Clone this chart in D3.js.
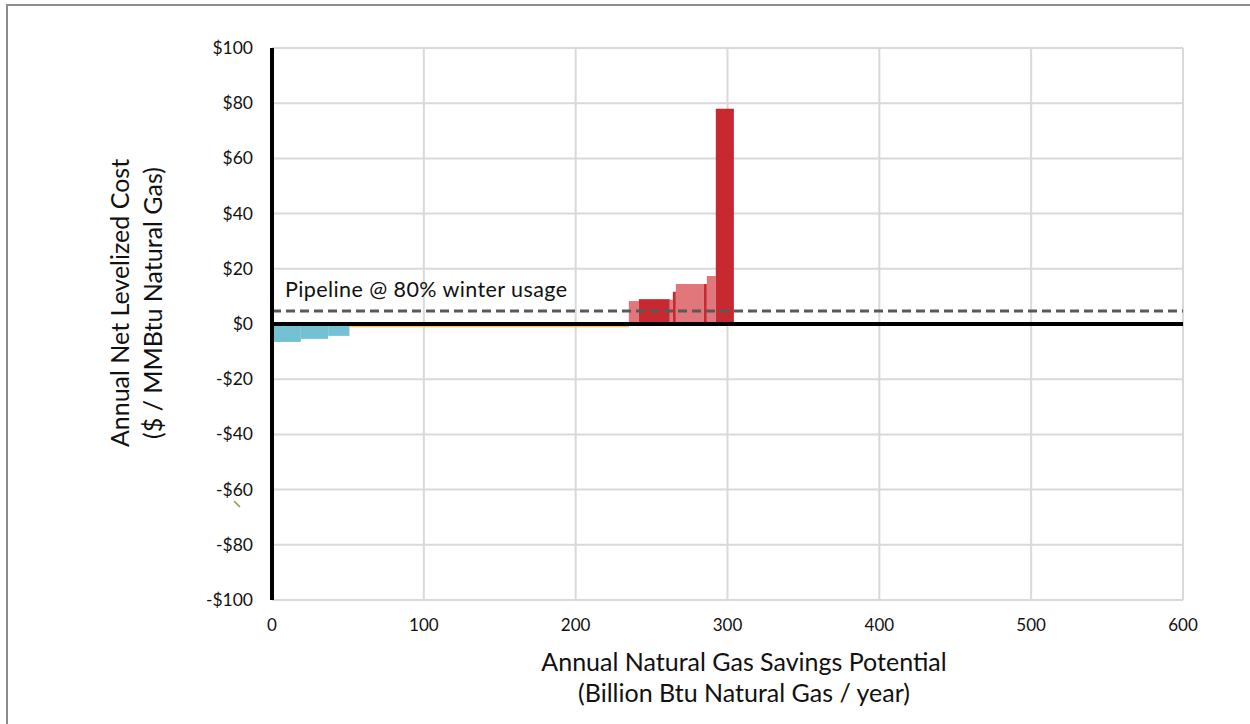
<!DOCTYPE html>
<html>
<head>
<meta charset="utf-8">
<script src="https://cdn.jsdelivr.net/npm/d3@7"></script>
<style>
  body { margin: 0; background: #fff; }
  text { font-family: "Lato", "Open Sans", sans-serif; fill: #111; }
</style>
</head>
<body>
<script>
// supply curve steps: width on x (Billion Btu / yr), height on y ($ / MMBtu)
var savings = [19, 18, 14, 184, 6.6, 20.4, 2, 2, 18.4, 2, 5.9, 11.9]
var costs   = [-6.5, -5.4, -4.3, -1.2, 8.3, 9.0, 8.8, 11.7, 14.5, 14.5, 17.4, 78]
var groups  = ['blue', 'blue', 'blue', 'yellow', 'light', 'dark', 'light', 'dark', 'light', 'dark', 'light', 'dark']
var xTicks = [0, 100, 200, 300, 400, 500, 600]
var yTicks = [100, 80, 60, 40, 20, 0, -20, -40, -60, -80, -100]
var pipeline = 4.7
var pipelineLabel = 'Pipeline @ 80% winter usage'

var colors = { blue: '#74c1d3', yellow: '#f4c65a', light: '#e1767b', dark: '#c6292f' }

var W = 1250, H = 724
var svg = d3.select(document.body).append('svg').attr('width', W).attr('height', H)

// outer frame
svg.append('path').attr('d', 'M7,' + H + ' L7,5 L' + W + ',5')
  .attr('fill', 'none').attr('stroke', '#8c8c8c').attr('stroke-width', 2)

var x = d3.scaleLinear().domain([0, 600]).range([272, 1183])
var y = d3.scaleLinear().domain([-100, 100]).range([600, 48])

// grid
svg.append('g').selectAll('line').data(yTicks).enter().append('line')
  .attr('x1', x(0)).attr('x2', x(600))
  .attr('y1', function(d) { return y(d) }).attr('y2', function(d) { return y(d) })
  .attr('stroke', '#d9d9d9').attr('stroke-width', 2)
svg.append('g').selectAll('line').data(xTicks.slice(1)).enter().append('line')
  .attr('x1', function(d) { return x(d) }).attr('x2', function(d) { return x(d) })
  .attr('y1', y(100)).attr('y2', y(-100))
  .attr('stroke', '#d9d9d9').attr('stroke-width', 2)

// bars
var starts = []
var acc = 0
savings.forEach(function(s) { starts.push(acc); acc += s })

svg.append('g').selectAll('rect').data(costs).enter().append('rect')
  .attr('x', function(d, i) { return x(starts[i]) })
  .attr('width', function(d, i) { return x(starts[i] + savings[i]) - x(starts[i]) })
  .attr('y', function(d) { return y(Math.max(0, d)) })
  .attr('height', function(d) { return Math.abs(y(d) - y(0)) })
  .attr('fill', function(d, i) { return colors[groups[i]] })

// pipeline reference
svg.append('line')
  .attr('x1', x(0)).attr('x2', x(600))
  .attr('y1', y(pipeline)).attr('y2', y(pipeline))
  .attr('stroke', '#595959').attr('stroke-width', 3).attr('stroke-dasharray', '9,5')
svg.append('text').attr('x', 285).attr('y', 297)
  .attr('font-size', 21.5).attr('textLength', 282).text(pipelineLabel)

// axes lines
svg.append('line').attr('x1', x(0)).attr('x2', x(600))
  .attr('y1', y(0)).attr('y2', y(0))
  .attr('stroke', '#000').attr('stroke-width', 4)
svg.append('line').attr('x1', x(0)).attr('x2', x(0))
  .attr('y1', y(100)).attr('y2', y(-100))
  .attr('stroke', '#000').attr('stroke-width', 4)

// tick labels
svg.append('g').selectAll('text').data(yTicks).enter().append('text')
  .attr('x', 253).attr('y', function(d) { return y(d) + 6 })
  .attr('text-anchor', 'end').attr('font-size', 17.5)
  .text(function(d) { return (d < 0 ? '-$' : '$') + Math.abs(d) })
svg.append('g').selectAll('text').data(xTicks).enter().append('text')
  .attr('x', function(d) { return x(d) }).attr('y', 631)
  .attr('text-anchor', 'middle').attr('font-size', 17)
  .text(function(d) { return d })

// axis titles
svg.append('text').attr('x', 744).attr('y', 671).attr('text-anchor', 'middle')
  .attr('font-size', 25).text('Annual Natural Gas Savings Potential')
svg.append('text').attr('x', 744).attr('y', 702).attr('text-anchor', 'middle')
  .attr('font-size', 25).text('(Billion Btu Natural Gas / year)')
svg.append('text').attr('transform', 'translate(129,303) rotate(-90)').attr('text-anchor', 'middle')
  .attr('font-size', 25).text('Annual Net Levelized Cost')
svg.append('text').attr('transform', 'translate(162,303) rotate(-90)').attr('text-anchor', 'middle')
  .attr('font-size', 25).text('($ / MMBtu Natural Gas)')

// stray mark left in the original
svg.append('line').attr('x1', 234).attr('y1', 501).attr('x2', 240).attr('y2', 507)
  .attr('stroke', '#8aa03c').attr('stroke-width', 1.5)
</script>
</body>
</html>
